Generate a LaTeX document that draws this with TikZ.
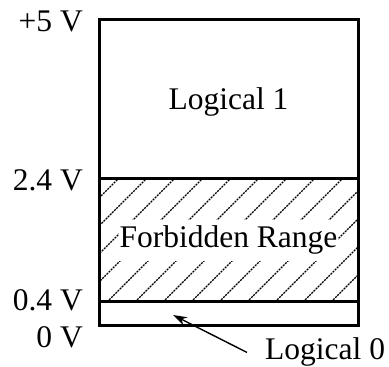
\documentclass[tikz,border=0pt]{standalone}
\usepackage{fontspec}
\setmainfont{Liberation Serif}
\usetikzlibrary{arrows.meta, positioning}

\begin{document}
\begin{tikzpicture}[
    x=1pt, y=1pt,
    font=\fontsize{31.5}{36}\selectfont,
    frame/.style={line width=3pt, line join=miter},
    hatch/.style={line width=1.3pt, dash pattern=on 2pt off 1pt},
    volt/.style={anchor=base east, inner sep=0pt},
    region/.style={anchor=base, inner sep=0pt},
    arr/.style={-{Stealth[length=14pt, width=9pt]}, line width=1.4pt}
  ]
    \useasboundingbox (0,0) rectangle (389,367);

    %% Hatching of the forbidden range
    \begin{scope}
      \clip (99,65) rectangle (358,188);
      \foreach \x in {-117,-89,...,360}
        \draw[hatch] (\x,65) -- ++(123,123);
    \end{scope}

    %% Outline
    \draw[frame] (99,41) rectangle (358,347);
    \draw[frame] (99,188) -- (358,188);
    \draw[frame] (99,65) -- (358,65);

    %% Region labels
    \node[region] (lone) at (228.5,257) {Logical 1};
    \node[region, fill=white, inner xsep=1pt, inner ysep=6pt] (forb) at (228.5,119) {Forbidden Range};
    \node[anchor=base west, inner xsep=18pt, inner ysep=2pt] (lzero) at (247,7) {Logical 0};

    %% Voltage levels
    \node[volt] (vfive) at (83,335) {+5 V};
    \node[volt] (vhigh) at (83,176) {2.4 V};
    \node[volt] (vlow) at (83,56) {0.4 V};
    \node[volt] (vzero) at (83,19) {0 V};

    %% Pointer to logical 0
    \coordinate (zerotip) at (173,52);
    \draw[arr] (lzero.west) -- (zerotip);
  \end{tikzpicture}
\end{document}
